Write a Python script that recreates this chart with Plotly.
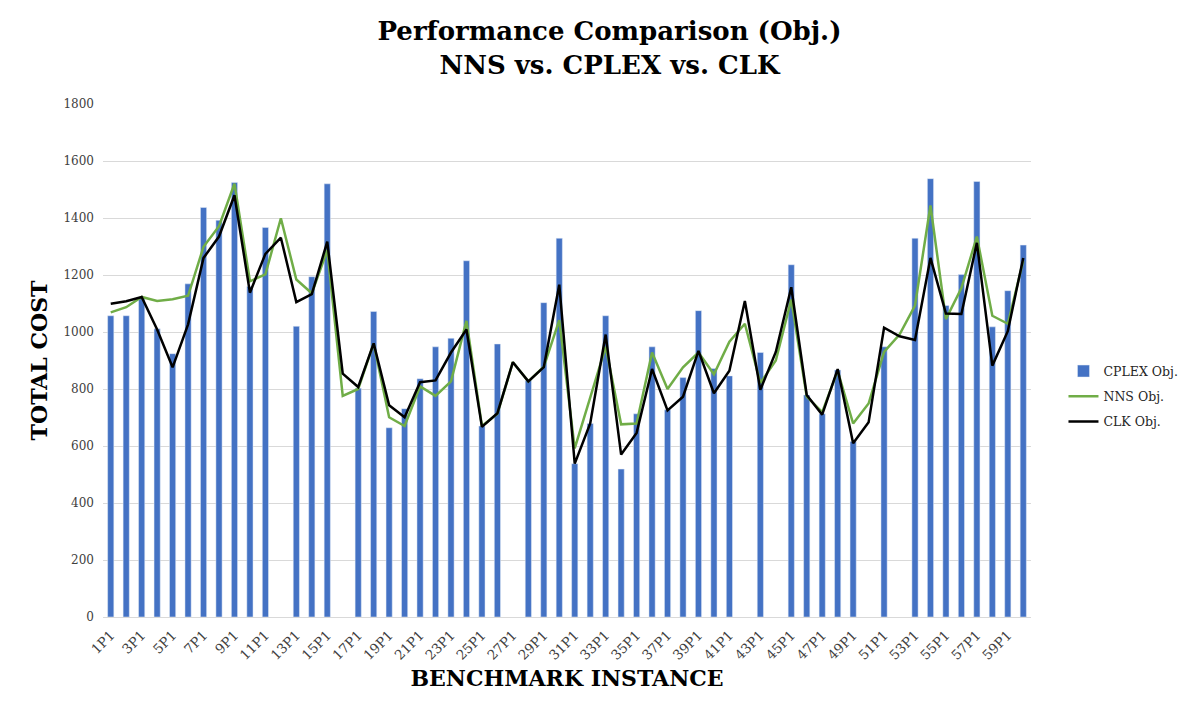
import plotly.graph_objs as go

# benchmark instances 1P1 .. 60P1
instances = [f"{i}P1" for i in range(1, 61)]

# CPLEX objective (None = no bar shown)
cplex_obj = [1057, 1057, 1120, 1011, 924, 1169, 1437, 1392, 1525, 1160,
             1367, None, 1020, 1194, 1520, None, 803, 1072, 664, 731,
             836, 948, 978, 1250, 670, 958, None, 830, 1103, 1329,
             538, 679, 1057, 519, 713, 948, 727, 840, 1075, 872,
             846, None, 928, None, 1236, 779, 713, 867, 616, None,
             948, None, 1329, 1538, 1093, 1202, 1528, 1018, 1145, 1305]

# NNS objective
nns_obj = [1069, 1087, 1123, 1109, 1115, 1127, 1299, 1371, 1520, 1178,
           1202, 1399, 1184, 1136, 1287, 776, 800, 960, 701, 670,
           809, 776, 827, 1039, 670, 713, 894, 827, 878, 1042,
           592, 768, 948, 676, 679, 928, 800, 876, 928, 852,
           966, 1029, 821, 900, 1114, 773, 719, 864, 679, 749,
           930, 991, 1093, 1444, 1045, 1154, 1335, 1057, 1029, 1250]

# CLK objective
clk_obj = [1099, 1108, 1123, 1009, 876, 1027, 1260, 1335, 1480, 1138,
           1274, 1331, 1105, 1133, 1317, 854, 807, 960, 743, 701,
           824, 830, 928, 1009, 667, 715, 894, 827, 877, 1166,
           538, 679, 991, 570, 646, 870, 725, 773, 934, 785,
           864, 1109, 797, 930, 1157, 779, 710, 870, 610, 683,
           1015, 985, 972, 1260, 1065, 1063, 1313, 882, 1003, 1260]

serif = "DejaVu Serif"

fig = go.Figure()
fig.add_trace(go.Bar(x=instances, y=cplex_obj, name="CPLEX Obj.", legendgroup="a",
                     marker=dict(color="#4472C4")))
fig.add_trace(go.Scatter(x=instances, y=nns_obj, mode="lines", name="NNS Obj.", legendgroup="b",
                         line=dict(color="#70AD47", width=2.5)))
fig.add_trace(go.Scatter(x=instances, y=clk_obj, mode="lines", name="CLK Obj.", legendgroup="c",
                         line=dict(color="#000000", width=2.5)))

# page body has an 8px margin, so offsets are compensated here
fig.update_layout(
    width=1203, height=713,
    margin=dict(l=95, r=180, t=96, b=104),
    paper_bgcolor="white", plot_bgcolor="white",
    bargap=0.6,
    title=dict(text="<b>Performance Comparison (Obj.)<br>NNS vs. CPLEX vs. CLK</b>",
               x=0.5, xanchor="center", y=0.955, yanchor="top",
               font=dict(family=serif, size=26, color="black")),
    legend=dict(x=1.035, y=0.43, xanchor="left", yanchor="middle",
                font=dict(family=serif, size=12.5, color="#262626"),
                tracegroupgap=6),
    font=dict(family=serif),
)

fig.update_xaxes(
    type="category", tickangle=-45, dtick=2, tick0=0,
    tickfont=dict(family=serif, size=13.5, color="#404040"),
    showgrid=False, showline=True, linecolor="#D9D9D9", linewidth=1,
    ticks="", ticklabelstandoff=4,
    title=dict(text="<b>BENCHMARK INSTANCE</b>", standoff=8,
               font=dict(family=serif, size=22, color="black")),
)
fig.update_yaxes(
    range=[0, 1800], dtick=200,
    tickfont=dict(family=serif, size=12, color="#404040"),
    showgrid=True, gridcolor="#D9D9D9", gridwidth=1,
    zeroline=False, ticks="", ticklabelstandoff=8,
    title=dict(text="<b>TOTAL COST</b>", standoff=9,
               font=dict(family=serif, size=22, color="black")),
)

fig.write_html("out.html")
